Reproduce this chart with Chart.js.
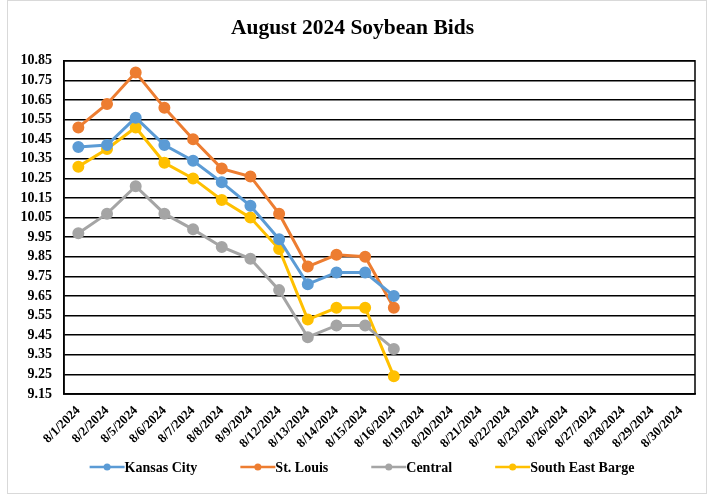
<!DOCTYPE html>
<html>
<head>
<meta charset="utf-8">
<script src="https://cdn.jsdelivr.net/npm/chart.js@4.4.1/dist/chart.umd.min.js"></script>
<style>
  body { margin: 0; background: #fff; }
  #wrap { width: 714px; height: 495px; }
</style>
</head>
<body>
<div id="wrap"><canvas id="soyChart" width="714" height="495"></canvas></div>
<script>
// data
var dates = ['8/1/2024', '8/2/2024', '8/5/2024', '8/6/2024', '8/7/2024', '8/8/2024', '8/9/2024',
  '8/12/2024', '8/13/2024', '8/14/2024', '8/15/2024', '8/16/2024', '8/19/2024', '8/20/2024',
  '8/21/2024', '8/22/2024', '8/23/2024', '8/26/2024', '8/27/2024', '8/28/2024', '8/29/2024', '8/30/2024'];
var kansasCity = [10.41, 10.42, 10.56, 10.42, 10.34, 10.23, 10.11, 9.94, 9.71, 9.77, 9.77, 9.65];
var stLouis = [10.51, 10.63, 10.79, 10.61, 10.45, 10.30, 10.26, 10.07, 9.80, 9.86, 9.85, 9.59];
var central = [9.97, 10.07, 10.21, 10.07, 9.99, 9.90, 9.84, 9.68, 9.44, 9.50, 9.50, 9.38];
var seBarge = [10.31, 10.40, 10.51, 10.33, 10.25, 10.14, 10.05, 9.89, 9.53, 9.59, 9.59, 9.24];

var yMin = 9.15, yMax = 10.85, yStep = 0.1;
var serif = '"Liberation Serif", "Times New Roman", serif';

function makeSeries(label, data, color) {
    return {
        label: label,
        data: data,
        borderColor: color,
        backgroundColor: color,
        borderWidth: 3,
        pointRadius: 4.5,
        pointHoverRadius: 4.5,
        pointStyle: 'circle',
        tension: 0
    };
}

// outer frame, plot border and the excel style legend (line with dot)
var framePlugin = {
    id: 'frame',
    beforeDraw: function(chart) {
        var ctx = chart.ctx;
        ctx.save();
        ctx.strokeStyle = '#d9d9d9';
        ctx.lineWidth = 1;
        ctx.strokeRect(7.5, 0.5, 699, 493);
        ctx.restore();
    },
    afterDatasetsDraw: function(chart) {
        var a = chart.chartArea;
        var ctx = chart.ctx;
        ctx.save();
        ctx.strokeStyle = '#000';
        ctx.lineWidth = 1.5;
        ctx.strokeRect(a.left, a.top, a.right - a.left, a.bottom - a.top);
        ctx.restore();
    },
    afterDraw: function(chart) {
        var ctx = chart.ctx;
        var sets = chart.data.datasets;
        var iconW = 35, gap = 43, cy = 467;
        ctx.save();
        ctx.font = 'bold 14px ' + serif;
        ctx.textBaseline = 'middle';
        var widths = sets.map(function(ds) { return iconW + ctx.measureText(ds.label).width; });
        var total = widths.reduce(function(s, w) { return s + w; }, 0) + gap * (sets.length - 1);
        var x = 362 - total / 2;
        sets.forEach(function(ds, i) {
            ctx.strokeStyle = ds.borderColor;
            ctx.fillStyle = ds.borderColor;
            ctx.lineWidth = 2.5;
            ctx.beginPath();
            ctx.moveTo(x, cy);
            ctx.lineTo(x + iconW, cy);
            ctx.stroke();
            ctx.beginPath();
            ctx.arc(x + iconW / 2, cy, 3.5, 0, Math.PI * 2);
            ctx.fill();
            ctx.fillStyle = '#000';
            ctx.fillText(ds.label, x + iconW, cy + 1);
            x += widths[i] + gap;
        });
        ctx.restore();
    }
};

var canvas = document.getElementById('soyChart');
var soyChart = new Chart(canvas, {
    type: 'line',
    data: {
        labels: dates,
        datasets: [
            makeSeries('Kansas City', kansasCity, '#5B9BD5'),
            makeSeries('St. Louis', stLouis, '#ED7D31'),
            makeSeries('Central', central, '#A5A5A5'),
            makeSeries('South East Barge', seBarge, '#FFC000')
        ]
    },
    options: {
        responsive: false,
        animation: false,
        layout: {
            padding: { left: 10, right: 19, top: 0, bottom: 43 }
        },
        plugins: {
            title: {
                display: true,
                text: 'August 2024 Soybean Bids',
                color: '#000',
                font: { family: serif, size: 21.5, weight: 'bold' },
                padding: { top: 16, bottom: 19 }
            },
            legend: { display: false },
            tooltip: { enabled: false }
        },
        scales: {
            x: {
                offset: true,
                grid: { display: false, drawTicks: false },
                border: { display: true, color: '#000', width: 1.5 },
                ticks: {
                    autoSkip: false,
                    minRotation: 45,
                    maxRotation: 45,
                    color: '#000',
                    padding: 9,
                    font: { family: serif, size: 13, weight: 'bold' }
                },
                afterFit: function(scale) { scale.height = 58; }
            },
            y: {
                min: yMin,
                max: yMax,
                grid: { color: '#000', lineWidth: 1.5, drawTicks: false },
                border: { display: true, color: '#000', width: 1.5 },
                ticks: {
                    stepSize: yStep,
                    autoSkip: false,
                    color: '#000',
                    padding: 12,
                    font: { family: serif, size: 14, weight: 'bold' },
                    callback: function(v) { return Number(v).toFixed(2); }
                },
                afterFit: function(scale) { scale.width = 54; }
            }
        }
    },
    plugins: [framePlugin]
});
</script>
</body>
</html>
